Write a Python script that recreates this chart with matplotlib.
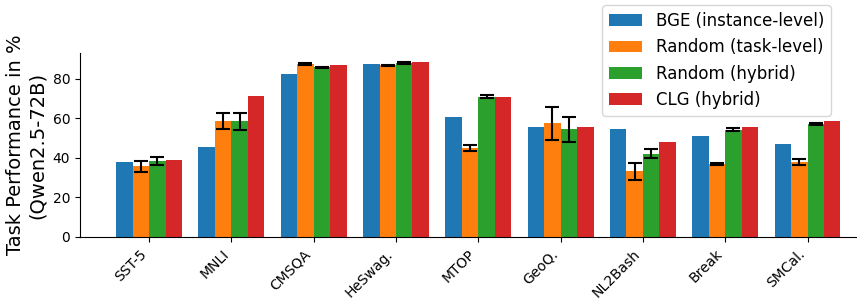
import numpy as np
import matplotlib
matplotlib.use("Agg")
import matplotlib.pyplot as plt

# ---- data ----
tasks = ["SST-5", "MNLI", "CMSQA", "HeSwag.", "MTOP", "GeoQ.", "NL2Bash", "Break", "SMCal."]

bge = [37.7, 45.3, 82.5, 87.5, 60.4, 55.8, 54.3, 50.8, 46.8]
rand_task = [35.7, 58.4, 87.2, 86.7, 45.1, 57.4, 33.2, 36.9, 38.1]
rand_task_err = [2.8, 4.0, 0.5, 0.4, 1.5, 8.2, 4.3, 0.5, 1.5]
rand_hybrid = [38.2, 58.4, 85.7, 87.9, 70.8, 54.3, 42.1, 54.2, 57.2]
rand_hybrid_err = [2.0, 4.3, 0.4, 0.3, 0.7, 6.5, 2.4, 0.8, 0.5]
clg = [38.7, 71.4, 87.0, 88.5, 70.9, 55.8, 47.8, 55.8, 58.4]

labels = ["BGE (instance-level)", "Random (task-level)", "Random (hybrid)", "CLG (hybrid)"]

# ---- plot ----
fig = plt.figure(figsize=(8.57, 3.04), dpi=100)
ax = fig.add_axes([0.0933, 0.2204, 0.9297, 0.6053])

x = np.arange(len(tasks))
w = 0.2
err_kw = dict(capsize=5, elinewidth=1.5, capthick=1.5, ecolor="black")

ax.bar(x - 1.5 * w, bge, w, color="#1f77b4", label=labels[0])
ax.bar(x - 0.5 * w, rand_task, w, yerr=rand_task_err, color="#ff7f0e",
       label=labels[1], error_kw=err_kw)
ax.bar(x + 0.5 * w, rand_hybrid, w, yerr=rand_hybrid_err, color="#2ca02c",
       label=labels[2], error_kw=err_kw)
ax.bar(x + 1.5 * w, clg, w, color="#d62728", label=labels[3])

ax.set_xticks(x)
ax.set_xticklabels(tasks, rotation=45, ha="right", fontsize=10)
ax.tick_params(axis="y", labelsize=10)
ax.set_ylabel("Task Performance in %\n(Qwen2.5-72B)", fontsize=14)
ax.set_yticks([0, 20, 40, 60, 80])

ax.spines["top"].set_visible(False)
ax.spines["right"].set_visible(False)

ax.legend(loc="upper right", bbox_to_anchor=(839 / 857, 1 + 3 / 304),
          bbox_transform=fig.transFigure, fontsize=12)

fig.savefig("out.png", dpi=100)
